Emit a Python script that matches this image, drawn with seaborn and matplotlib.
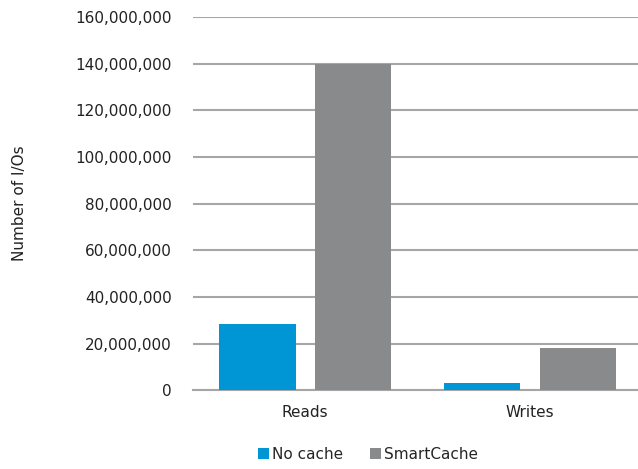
import matplotlib
matplotlib.use('Agg')
import matplotlib.pyplot as plt
import matplotlib.ticker as mticker
import seaborn as sns
import pandas as pd

# 데이터
operations = ['Reads', 'Writes']
no_cache = [28300000, 2900000]
smart_cache = [140000000, 18000000]

df = pd.DataFrame({
    'op': operations * 2,
    'mode': ['No cache'] * 2 + ['SmartCache'] * 2,
    'ios': no_cache + smart_cache,
})

sns.set_theme(style='white')
plt.rcParams['font.family'] = ['DejaVu Sans']

fig = plt.figure(figsize=(6.38, 4.69), dpi=100)
ax = fig.add_axes([0.302, 0.168, 0.705, 0.796])

sns.barplot(data=df, x='op', y='ios', hue='mode',
            palette=['#0096D6', '#898A8C'], width=0.85, gap=0.2,
            saturation=1, linewidth=0, ax=ax, zorder=3)

ax.set_ylim(0, 160000000)
ax.set_xlim(-0.5, 1.5)
ax.yaxis.set_major_locator(mticker.MultipleLocator(20000000))
ax.yaxis.set_major_formatter(mticker.FuncFormatter(lambda v, p: f'{int(v):,}'))
ax.grid(axis='y', color='#A6A6A6', lw=1.5, zorder=0)
ax.set_axisbelow(True)

for s in ['top', 'right', 'left']:
    ax.spines[s].set_visible(False)
ax.spines['bottom'].set_color('#A6A6A6')
ax.spines['bottom'].set_linewidth(1.5)
ax.tick_params(axis='both', length=0, labelsize=11, colors='#222222')
ax.tick_params(axis='y', pad=15)
ax.tick_params(axis='x', pad=11)

ax.set_xlabel('')
ax.set_ylabel('Number of I/Os', fontsize=11, color='#222222')
ax.yaxis.set_label_coords(-0.368, 0.5)

ax.legend(loc='upper center', bbox_to_anchor=(0.39, -0.115), ncol=2, frameon=False,
          fontsize=11, handlelength=0.7, handleheight=0.7, handletextpad=0.2,
          columnspacing=1.8)

fig.savefig('out.png', dpi=100)
